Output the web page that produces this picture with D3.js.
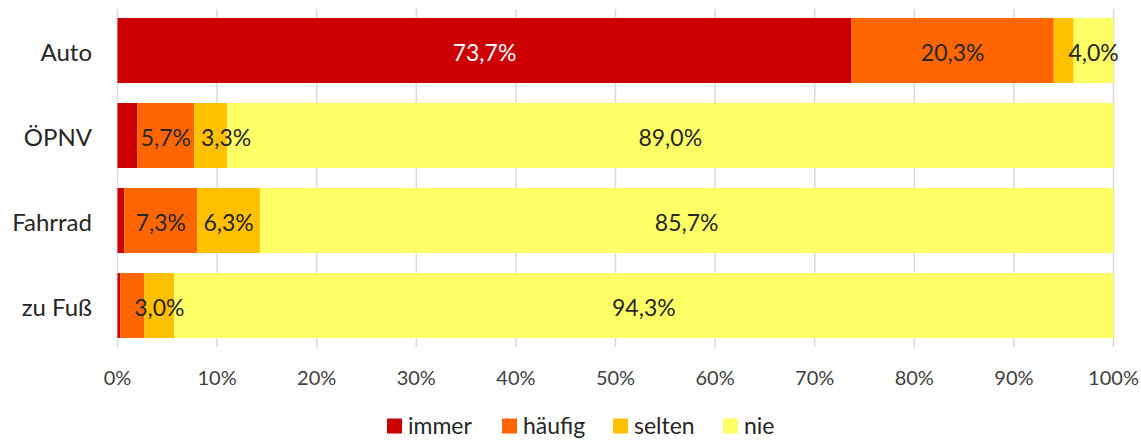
<!DOCTYPE html>
<html>
<head>
<meta charset="utf-8">
<script src="https://cdn.jsdelivr.net/npm/d3@7"></script>
<style>
  html, body { margin: 0; padding: 0; background: #fff; }
  svg { display: block; font-family: "Lato", "Noto Sans", sans-serif; }
</style>
</head>
<body>
<svg id="chart" width="1141" height="441"></svg>
<script>
// Modes of transport and how often each is used (shares in percent)
const categories = ["Auto", "ÖPNV", "Fahrrad", "zu Fuß"];
const seriesNames = ["immer", "häufig", "selten", "nie"];
const immer  = [73.7, 2.0, 0.7, 0.3];
const haeufig = [20.3, 5.7, 7.3, 2.4];
const selten = [2.0, 3.3, 6.3, 3.0];
const nie    = [4.0, 89.0, 85.7, 94.3];
const tickValues = [0, 10, 20, 30, 40, 50, 60, 70, 80, 90, 100];
const tickLabels = ["0%", "10%", "20%", "30%", "40%", "50%", "60%", "70%", "80%", "90%", "100%"];

const colors = ["#CC0000", "#FF6600", "#FFC000", "#FFFF66"];
const labelColors = ["#ffffff", "#262626", "#262626", "#262626"];

const rows = categories.map((c, i) => ({
  cat: c, immer: immer[i], "häufig": haeufig[i], selten: selten[i], nie: nie[i]
}));

const svg = d3.select("#chart");
const x = d3.scaleLinear().domain([0, 100]).range([117.5, 1113.5]);
const y = d3.scaleBand().domain(categories).range([8, 348])
  .paddingInner(0.235).paddingOuter(0.1175);

const stack = d3.stack().keys(seriesNames);
const stacked = stack(rows);

// vertical gridlines with short tick marks below the plot
svg.append("g")
  .selectAll("line")
  .data(tickValues)
  .join("line")
  .attr("x1", d => x(d)).attr("x2", d => x(d))
  .attr("y1", 9).attr("y2", 347)
  .attr("stroke", "#d9d9d9")
  .attr("stroke-width", 1.5);

// stacked bars
const layers = svg.append("g")
  .selectAll("g")
  .data(stacked)
  .join("g")
  .attr("fill", (d, i) => colors[i]);

layers.selectAll("rect")
  .data(d => d)
  .join("rect")
  .attr("x", d => x(d[0]))
  .attr("width", d => x(d[1]) - x(d[0]))
  .attr("y", d => y(d.data.cat))
  .attr("height", y.bandwidth());

// value labels, centred in their segment; small shares stay unlabelled
const labelG = svg.append("g").attr("font-size", 23);
const fmt = v => v.toFixed(1).replace(".", ",") + "%";
categories.forEach((cat, ri) => {
  let prevRight = -Infinity;
  stacked.forEach((layer, si) => {
    const seg = layer[ri];
    const v = seg[1] - seg[0];
    if (v < 2.5) return;
    const t = labelG.append("text")
      .attr("text-anchor", "middle")
      .attr("dominant-baseline", "central")
      .attr("fill", labelColors[si])
      .attr("y", y(cat) + y.bandwidth() / 2 + 1)
      .text(fmt(v));
    const w = t.node().getComputedTextLength();
    let cx = (x(seg[0]) + x(seg[1])) / 2;
    if (cx - w / 2 < prevRight + 10) cx = prevRight + 10 + w / 2;
    t.attr("x", cx);
    prevRight = cx + w / 2;
  });
});

// category axis labels
svg.append("g")
  .selectAll("text")
  .data(categories)
  .join("text")
  .attr("x", 92)
  .attr("y", d => y(d) + y.bandwidth() / 2 + 1)
  .attr("text-anchor", "end")
  .attr("dominant-baseline", "central")
  .attr("font-size", 24)
  .attr("fill", "#262626")
  .text(d => d);

// value axis labels
svg.append("g")
  .selectAll("text")
  .data(tickValues)
  .join("text")
  .attr("x", d => x(d))
  .attr("y", 377)
  .attr("text-anchor", "middle")
  .attr("dominant-baseline", "central")
  .attr("font-size", 20)
  .attr("fill", "#404040")
  .text((d, i) => tickLabels[i]);

// legend
const legendX = [387, 502, 613, 723];
const legend = svg.append("g")
  .selectAll("g")
  .data(seriesNames)
  .join("g")
  .attr("transform", (d, i) => `translate(${legendX[i]},425)`);
legend.append("rect")
  .attr("x", 0).attr("y", -6.5)
  .attr("width", 15).attr("height", 15)
  .attr("fill", (d, i) => colors[i]);
legend.append("text")
  .attr("x", 21).attr("y", 0)
  .attr("dominant-baseline", "central")
  .attr("font-size", 23)
  .attr("fill", "#262626")
  .text(d => d);
</script>
</body>
</html>
